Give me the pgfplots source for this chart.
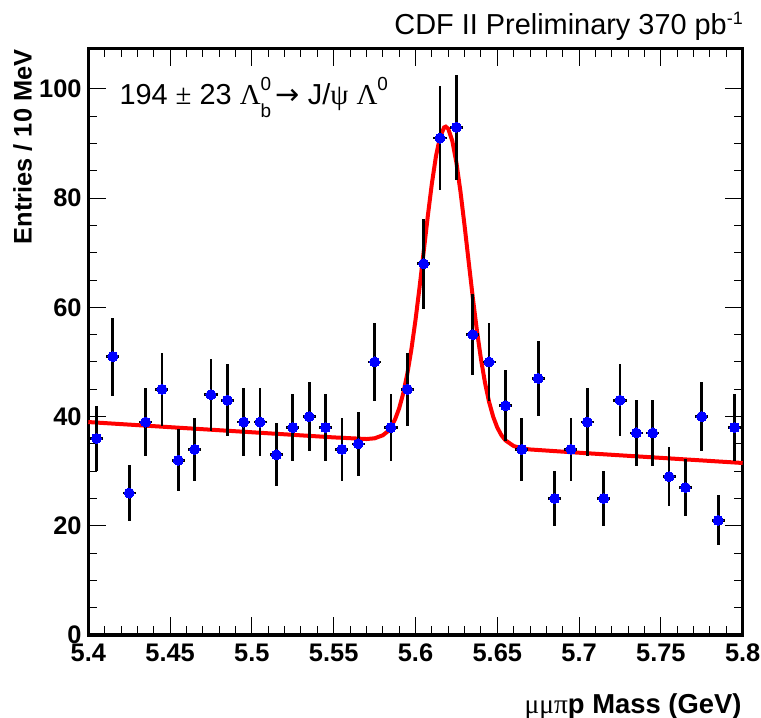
\documentclass[border=0pt]{standalone}
\usepackage{fontspec}
\setmainfont{Liberation Sans}
\newfontfamily\grk{Liberation Serif}
\newfontfamily\djv{DejaVu Sans}
\usepackage{pgfplots}
\pgfplotsset{compat=1.18}
\usepackage{pgfplotstable}

\pgfplotstableread{
x y ey
5.405 36 6.00
5.415 51 7.14
5.425 26 5.10
5.435 39 6.24
5.445 45 6.71
5.455 32 5.66
5.465 34 5.83
5.475 44 6.63
5.485 43 6.56
5.495 39 6.24
5.505 39 6.24
5.515 33 5.74
5.525 38 6.16
5.535 40 6.32
5.545 38 6.16
5.555 34 5.83
5.565 35 5.92
5.575 50 7.07
5.585 38 6.16
5.595 45 6.71
5.605 68 8.25
5.615 91 9.54
5.625 93 9.64
5.635 55 7.42
5.645 50 7.07
5.655 42 6.48
5.665 34 5.83
5.675 47 6.86
5.685 25 5.00
5.695 34 5.83
5.705 39 6.24
5.715 25 5.00
5.725 43 6.56
5.735 37 6.08
5.745 37 6.08
5.755 29 5.39
5.765 27 5.20
5.775 40 6.32
5.785 21 4.58
5.795 38 6.16
}\datatable

\pgfplotstableread{
x y
5.400 39.00
5.450 38.06
5.500 37.13
5.550 36.19
5.570 35.89
5.575 36.02
5.580 36.57
5.5825 37.16
5.585 38.09
5.5875 39.49
5.590 41.50
5.5925 44.25
5.595 47.84
5.5975 52.35
5.600 57.69
5.6025 63.74
5.605 70.20
5.6075 76.66
5.610 82.65
5.6125 87.67
5.615 91.22
5.6175 92.96
5.6185 93.10
5.620 92.71
5.6225 90.49
5.625 86.52
5.6275 81.18
5.630 74.96
5.6325 68.36
5.635 61.86
5.6375 55.85
5.640 50.57
5.6425 46.16
5.645 42.65
5.6475 39.96
5.650 37.98
5.6525 36.60
5.655 35.64
5.660 34.61
5.665 34.17
5.670 33.98
5.700 33.38
5.750 32.44
5.800 31.50
}\fittable

\begin{document}
\begin{tikzpicture}
\useasboundingbox (-88.3bp,-83bp) rectangle (672.7bp,635bp);
\begin{axis}[
  at={(0,0)}, anchor=south west,
  scale only axis, width=654.4bp, height=586.7bp,
  xmin=5.4, xmax=5.8, ymin=0, ymax=107.45,
  axis line style={line width=3bp, black},
  tick align=inside,
  xtick={5.4,5.45,5.5,5.55,5.6,5.65,5.7,5.75,5.8},
  minor x tick num=4,
  ytick={0,20,40,60,80,100},
  minor y tick num=3,
  major tick length=18bp, minor tick length=9bp,
  tick style={line width=1bp, black},
  ticklabel style={font=\fontsize{25.5}{25.5}\selectfont\bfseries},
  /pgf/number format/assume math mode=true,
  x tick label style={inner sep=0pt, yshift=-9bp},
  y tick label style={inner sep=0pt, xshift=-6.5bp},
  clip=false,
]
\addplot[red, line width=4bp, no marks] table[x=x, y=y] {\fittable};
\addplot[only marks, mark=*, mark size=5bp,
  mark options={fill=blue, draw=blue, line width=0pt},
  error bars/.cd, y dir=both, y explicit, x dir=both, x fixed=0.004,
  error bar style={line width=2.7bp, black}, error mark=none]
  table[x=x, y=y, y error=ey] {\datatable};
\end{axis}
\node[anchor=base east, inner sep=0pt, font=\fontsize{29}{29}\selectfont]
  at (654.7bp,600bp) {CDF II Preliminary 370 pb\raisebox{10bp}{\fontsize{18}{18}\selectfont -1}};
\node[anchor=base west, inner sep=0pt, font=\fontsize{29}{29}\selectfont]
  at (31bp,530bp) {194 {\grk ±} 23 {\grk Λ}\makebox[15bp][l]{\rlap{\raisebox{14bp}{\fontsize{19}{19}\selectfont 0}}\raisebox{-13bp}{\fontsize{19}{19}\selectfont b}}{\djv →} J/{\grk ψ} {\grk Λ}\raisebox{14bp}{\fontsize{19}{19}\selectfont 0}};
\node[rotate=90, anchor=base east, inner sep=0pt, font=\fontsize{25.5}{25.5}\selectfont\bfseries]
  at (-56.6bp,585.7bp) {Entries / 10 MeV};
\node[anchor=base east, inner sep=0pt, font=\fontsize{27.5}{27.5}\selectfont\bfseries]
  at (653.4bp,-78.3bp) {{\mdseries\grk μμπ}p Mass (GeV)};
\end{tikzpicture}
\end{document}
